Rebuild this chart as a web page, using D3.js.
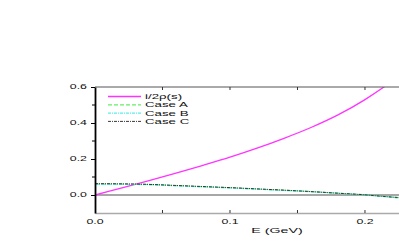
<!DOCTYPE html>
<html>
<head>
<meta charset="utf-8">
<script src="https://cdn.jsdelivr.net/npm/d3@7"></script>
<style>
  body { margin: 0; background: #fff; }
  text { font-family: "Liberation Sans", Arial, sans-serif; fill: #111; }
</style>
</head>
<body>
<div id="chart"></div>
<script>
// values
const energy = [0, 0.02, 0.04, 0.06, 0.08, 0.10, 0.12, 0.14, 0.16, 0.18, 0.20, 0.214, 0.225];
const rhoCurve = [0, 0.04, 0.08, 0.122, 0.165, 0.21, 0.26, 0.315, 0.375, 0.445, 0.53, 0.6, 0.66];
const caseA = [0.061, 0.060, 0.058, 0.052, 0.046, 0.040, 0.033, 0.026, 0.019, 0.010, 0.001, -0.008, -0.015];
const caseB = [0.059, 0.059, 0.057, 0.051, 0.045, 0.039, 0.032, 0.025, 0.018, 0.009, 0.000, -0.009, -0.016];
const caseC = [0.063, 0.062, 0.059, 0.053, 0.047, 0.041, 0.034, 0.027, 0.019, 0.010, 0.001, -0.008, -0.014];
const xTicks = [0.0, 0.1, 0.2];
const yTicks = [0.0, 0.2, 0.4, 0.6];

const seriesList = [
  { name: "i/2\u03c1(s)", values: rhoCurve, color: "#ff33ff", dash: null, width: 1.3 },
  { name: "Case A", values: caseA, color: "#66ee66", dash: "4,2", width: 1.2 },
  { name: "Case B", values: caseB, color: "#55eeee", dash: "3,1,1,1", width: 1.2 },
  { name: "Case C", values: caseC, color: "#222222", dash: "3,1,1,1", width: 0.9 }
];

const W = 399, H = 242;
const margin = { left: 95, right: 0, top: 87, bottom: 29 };
const width = W - margin.left - margin.right;
const height = H - margin.top - margin.bottom;
const stretch = 1.9; // the text in the picture is drawn wide

const svg = d3.select("#chart").append("svg")
  .attr("width", W)
  .attr("height", H);

const x = d3.scaleLinear().domain([0, 0.2252]).range([margin.left, W]);
const y = d3.scaleLinear().domain([-0.1, 0.6]).range([H - margin.bottom, margin.top]);

function wideText(g, tx, ty, str, size, anchor) {
  return g.append("text")
    .attr("transform", `translate(${tx},${ty}) scale(${stretch},1)`)
    .attr("text-anchor", anchor || "start")
    .style("font-size", size + "px")
    .text(str);
}

svg.append("clipPath").attr("id", "plotclip")
  .append("rect")
  .attr("x", margin.left).attr("y", margin.top)
  .attr("width", width).attr("height", height);

// zero line
svg.append("line")
  .attr("x1", x(0)).attr("x2", W)
  .attr("y1", y(0)).attr("y2", y(0))
  .attr("stroke", "#8a8a8a").attr("stroke-width", 1.6);

// curves
const line = d3.line().x((d, i) => x(energy[i])).y(d => y(d)).curve(d3.curveMonotoneX);
const plot = svg.append("g").attr("clip-path", "url(#plotclip)");
seriesList.forEach(s => {
  plot.append("path")
    .datum(s.values)
    .attr("d", line)
    .attr("fill", "none")
    .attr("stroke", s.color)
    .attr("stroke-width", s.width)
    .attr("stroke-dasharray", s.dash);
});

// bottom axis
const xAxis = svg.append("g")
  .attr("transform", `translate(0,${H - margin.bottom})`)
  .call(d3.axisBottom(x).tickValues(xTicks).tickFormat("").tickSize(0));
xAxis.select(".domain").attr("stroke", "#aaaaaa").attr("stroke-width", 1.6);
svg.append("g").selectAll("line")
  .data([0.05, 0.1, 0.15, 0.2])
  .join("line")
  .attr("x1", d => x(d)).attr("x2", d => x(d))
  .attr("y1", H - margin.bottom - 3).attr("y2", H - margin.bottom)
  .attr("stroke", "#333").attr("stroke-width", 1);
const xLabels = svg.append("g");
xTicks.forEach(t => wideText(xLabels, x(t), 224, d3.format(".1f")(t), 6.5, "middle"));

// top axis
svg.append("line")
  .attr("x1", x(0)).attr("x2", W)
  .attr("y1", margin.top).attr("y2", margin.top)
  .attr("stroke", "#555").attr("stroke-width", 1);
svg.append("g").selectAll("line")
  .data([0.05, 0.1, 0.15, 0.2])
  .join("line")
  .attr("x1", d => x(d)).attr("x2", d => x(d))
  .attr("y1", margin.top).attr("y2", margin.top + 3)
  .attr("stroke", "#333").attr("stroke-width", 1);

// left axis
const yAxis = svg.append("g")
  .attr("transform", `translate(${margin.left},0)`)
  .call(d3.axisLeft(y).tickValues(yTicks).tickFormat("").tickSize(4).tickSizeOuter(0));
yAxis.select(".domain").attr("stroke", "#000").attr("stroke-width", 1.8);
svg.append("g").selectAll("line")
  .data([0.1, 0.3, 0.5])
  .join("line")
  .attr("x1", margin.left - 3).attr("x2", margin.left)
  .attr("y1", d => y(d)).attr("y2", d => y(d))
  .attr("stroke", "#000");
const yLabels = svg.append("g");
yTicks.forEach(t => wideText(yLabels, 87, y(t) + 2.3, d3.format(".1f")(t), 6.5, "end"));

// axis title
wideText(svg, 277, 233, "E (GeV)", 7.5, "middle");

// legend
const legend = svg.append("g");
seriesList.forEach((s, i) => {
  const ly = 96.5 + i * 8.3;
  legend.append("line")
    .attr("x1", 108).attr("x2", 141)
    .attr("y1", ly).attr("y2", ly)
    .attr("stroke", s.color)
    .attr("stroke-width", s.width)
    .attr("stroke-dasharray", s.dash);
  wideText(legend, 145, ly + 2.6, s.name, 7);
});
</script>
</body>
</html>
